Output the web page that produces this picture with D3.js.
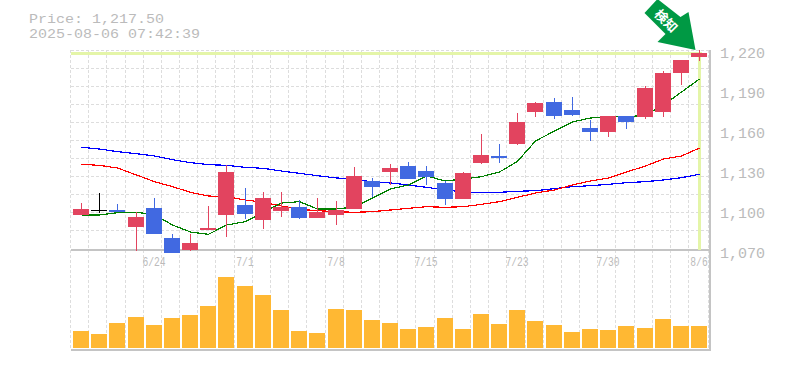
<!DOCTYPE html>
<html>
<head>
<meta charset="utf-8">
<script src="https://cdn.jsdelivr.net/npm/d3@7"></script>
<style>
  html, body { margin: 0; padding: 0; background: #fff; }
  svg { display: block; }
  text { font-family: "Liberation Mono", monospace; fill: #bbb; }
</style>
</head>
<body>
<div id="chart"></div>
<script>
const opens = [1097, 1101, 1100.75, 1088, 1102.25, 1079.75, 1070.75, 1085.75, 1097, 1104.5, 1093.25, 1100, 1103, 1094.75, 1097, 1101.5, 1122.5, 1129.25, 1133.75, 1130, 1121, 1109, 1136, 1141.25, 1150.25, 1174.25, 1181.75, 1175.75, 1162.25, 1159.25, 1171.25, 1170.5, 1174.25, 1203.5, 1215.5];
const highs = [1106, 1113.25, 1105.25, 1099, 1109.75, 1082.75, 1082.75, 1103.75, 1134.5, 1117.25, 1114.25, 1114.25, 1108.25, 1109.75, 1107.5, 1133, 1124.75, 1135.25, 1136.75, 1133.75, 1122.5, 1129.25, 1157.75, 1150.25, 1173.5, 1181.75, 1184.75, 1185.5, 1168.25, 1171.25, 1171.25, 1193.75, 1205, 1213.25, 1220.75];
const lows = [1097, 1098.75, 1099, 1070.25, 1082.75, 1068.5, 1070.25, 1085.75, 1080.5, 1094, 1086.5, 1095.5, 1094, 1094.75, 1089.5, 1101.5, 1110.5, 1119.5, 1124, 1119.5, 1104.5, 1109, 1135.25, 1136, 1149.5, 1170.5, 1169, 1171.25, 1152.5, 1155.5, 1161.5, 1169, 1170.5, 1194.5, 1212.5];
const closes = [1101.5, 1101, 1099, 1095.5, 1082.75, 1068.5, 1076, 1087.25, 1129.25, 1097.75, 1109.75, 1103, 1094.75, 1099.25, 1100.75, 1126.25, 1118, 1132.25, 1124, 1125.5, 1109, 1128.5, 1142, 1139.75, 1166.75, 1181, 1171.25, 1172, 1159.25, 1171.25, 1166.75, 1192.25, 1203.5, 1213.25, 1218.5];

const maShort = [1097, 1097, 1098.75, 1099, 1097.25, 1089.5, 1084.25, 1082.5, 1089.5, 1092, 1099.25, 1106, 1107, 1101.5, 1101.5, 1103, 1109.75, 1116.5, 1119.5, 1126.25, 1122.5, 1124, 1125.75, 1129.25, 1137.25, 1152.5, 1160, 1166.75, 1169.75, 1170.75, 1170.5, 1172, 1179.5, 1189.25, 1199];
const maMid = [1135, 1134.25, 1132.25, 1127, 1122, 1118.25, 1114, 1111.25, 1110.75, 1108.25, 1106.5, 1103.75, 1101.25, 1100.25, 1099.5, 1099, 1099.5, 1100.75, 1102, 1103.25, 1102.75, 1103.25, 1105, 1107, 1110.25, 1113.5, 1115.75, 1119.5, 1122.5, 1124.75, 1129.25, 1133.75, 1139, 1141.25, 1147.25];
const maLong = [1147.75, 1146.5, 1144.5, 1143, 1141.25, 1138.5, 1136.25, 1134.75, 1134.25, 1132.75, 1132, 1130, 1128.25, 1126.5, 1124.75, 1124, 1121.75, 1121, 1119.5, 1117.75, 1115.75, 1114.25, 1114, 1114, 1114.75, 1115.25, 1116.75, 1118.25, 1119, 1120, 1121.25, 1122, 1123.25, 1125, 1127.5];

const volumes = [170, 140, 250, 310, 230, 300, 330, 420, 710, 620, 530, 380, 170, 150, 390, 380, 280, 250, 190, 210, 300, 190, 340, 240, 380, 270, 230, 160, 190, 180, 220, 200, 290, 220, 220];

const dateLabels = ["6/24", "7/1", "7/8", "7/15", "7/23", "7/30", "8/6"];
const dateIndexes = [4, 9, 14, 19, 24, 29, 34];
const priceTicks = [1070, 1100, 1130, 1160, 1190, 1220];
const titleLines = ["Price: 1,217.50", "2025-08-06 07:42:39"];
const arrowLabel = "検知";

const gridColor = "#ddd";
const axisColor = "#c4c4c4";
const upColor = "#e2445f";
const downColor = "#4169e1";
const flatColor = "#000";
const volColor = "#ffb833";
const markColor = "#e4f5a8";
const arrowColor = "#009944";

const svg = d3.select("#chart")
  .append("svg")
  .attr("width", 785)
  .attr("height", 370);

const left = 70.5, right = 709;
const top0 = 51, bottom0 = 251, volBottom = 348;

const xScale = d3.scaleBand()
  .domain(d3.range(closes.length))
  .range([left, right])
  .padding(0.12);

const barX = i => Math.round(xScale(i) + 0.3);
const center = i => barX(i) + 8.5;

const yScale = d3.scaleLinear().domain([1070, 1220]).range([bottom0, top0]);
const volScale = d3.scaleLinear().domain([0, 800]).range([volBottom, volBottom - 80]);

// grid
const gridG = svg.append("g")
  .attr("stroke", gridColor)
  .attr("stroke-dasharray", "3,2")
  .attr("shape-rendering", "crispEdges");

d3.range(closes.length).forEach(k => {
  const gx = Math.floor(left + k * xScale.step()) + 0.5;
  gridG.append("line").attr("x1", gx).attr("x2", gx).attr("y1", 50).attr("y2", 350);
});
gridG.append("line").attr("x1", right - 0.5).attr("x2", right - 0.5).attr("y1", 50).attr("y2", 350);
d3.range(11).forEach(k => {
  const gy = Math.floor(50 + k * 18.09) + 0.5;
  gridG.append("line").attr("x1", left).attr("x2", right).attr("y1", gy).attr("y2", gy);
});

// frame
const frame = svg.append("g").attr("stroke", axisColor).attr("stroke-width", 2).attr("shape-rendering", "crispEdges");
frame.append("line").attr("x1", left).attr("x2", 710).attr("y1", 250).attr("y2", 250);
frame.append("line").attr("x1", left).attr("x2", 710).attr("y1", 350).attr("y2", 350);
frame.append("line").attr("x1", 710).attr("x2", 710).attr("y1", 50).attr("y2", 351);

// volume
svg.append("g").selectAll("rect")
  .data(volumes)
  .enter()
  .append("rect")
  .attr("x", (d, i) => barX(i))
  .attr("width", 16)
  .attr("y", d => volScale(d))
  .attr("height", d => volBottom - volScale(d))
  .attr("fill", volColor)
  .attr("shape-rendering", "crispEdges");

// current price marker
const lastX = center(closes.length - 1);
const lastY = yScale(closes[closes.length - 1]);
svg.append("line")
  .attr("x1", left).attr("x2", lastX + 2)
  .attr("y1", lastY).attr("y2", lastY)
  .attr("stroke", markColor).attr("stroke-width", 3)
  .attr("shape-rendering", "crispEdges");
svg.append("line")
  .attr("x1", lastX).attr("x2", lastX)
  .attr("y1", lastY).attr("y2", 250)
  .attr("stroke", markColor).attr("stroke-width", 3)
  .attr("shape-rendering", "crispEdges");

// moving averages
const line = d3.line()
  .x((d, i) => center(i))
  .y(d => yScale(d));

[[maLong, "#0000ff"], [maMid, "#ff0000"], [maShort, "#008000"]].forEach(s => {
  svg.append("path")
    .attr("d", line(s[0]))
    .attr("fill", "none")
    .attr("stroke", s[1])
    .attr("stroke-width", 1.2)
    .attr("shape-rendering", "crispEdges");
});

// candles
const candleColor = i => closes[i] > opens[i] ? upColor : (closes[i] < opens[i] ? downColor : flatColor);
const candles = svg.append("g").attr("shape-rendering", "crispEdges");

candles.selectAll(".wick")
  .data(closes)
  .enter()
  .append("line")
  .attr("class", "wick")
  .attr("x1", (d, i) => center(i))
  .attr("x2", (d, i) => center(i))
  .attr("y1", (d, i) => yScale(highs[i]))
  .attr("y2", (d, i) => yScale(lows[i]))
  .attr("stroke", (d, i) => candleColor(i));

candles.selectAll(".body")
  .data(closes)
  .enter()
  .append("rect")
  .attr("class", "body")
  .attr("x", (d, i) => barX(i))
  .attr("width", 16)
  .attr("y", (d, i) => yScale(Math.max(opens[i], closes[i])))
  .attr("height", (d, i) => Math.max(1, Math.abs(yScale(opens[i]) - yScale(closes[i]))))
  .attr("fill", (d, i) => candleColor(i));

// price axis
const yAxis = d3.axisRight(yScale)
  .tickValues(priceTicks)
  .tickSize(0)
  .tickPadding(0)
  .tickFormat(d3.format(","));

const yAxisG = svg.append("g")
  .attr("transform", "translate(720,2)")
  .call(yAxis);
yAxisG.select(".domain").remove();
yAxisG.attr("font-family", null);
yAxisG.selectAll("text")
  .attr("font-size", 15)
  .style("fill", "#bbb");

// date labels
svg.append("g").selectAll("text")
  .data(dateLabels)
  .enter()
  .append("text")
  .attr("x", (d, i) => center(dateIndexes[i]) - 0.5)
  .attr("y", 266)
  .attr("text-anchor", "middle")
  .attr("font-size", 12)
  .attr("textLength", d => d.length * 5.8)
  .attr("lengthAdjust", "spacingAndGlyphs")
  .text(d => d);

// title
svg.append("g").selectAll("text")
  .data(titleLines)
  .enter()
  .append("text")
  .attr("x", 29)
  .attr("y", (d, i) => 23 + i * 15)
  .attr("font-size", 13)
  .attr("textLength", d => d.length * 9)
  .attr("lengthAdjust", "spacingAndGlyphs")
  .text(d => d);

// arrow, placed from the last candle
const arrowX = lastX - 4, arrowY = lastY - 3;
const arrowShape = [[-51, -37], [-38, -51], [-15, -33], [-7, -38], [0, 0], [-38, -8], [-30, -16]];
const arrowG = svg.append("g").attr("transform", "translate(" + arrowX + "," + arrowY + ")");
arrowG.append("path")
  .attr("d", d3.line()(arrowShape) + "Z")
  .attr("fill", arrowColor);
arrowG.append("text")
  .attr("transform", "translate(-29.5,-29) rotate(45)")
  .attr("text-anchor", "middle")
  .attr("dy", "0.35em")
  .attr("font-size", 13)
  .attr("font-weight", "bold")
  .style("font-family", '"Noto Sans CJK JP"')
  .style("fill", "#fff")
  .text(arrowLabel);
</script>
</body>
</html>
